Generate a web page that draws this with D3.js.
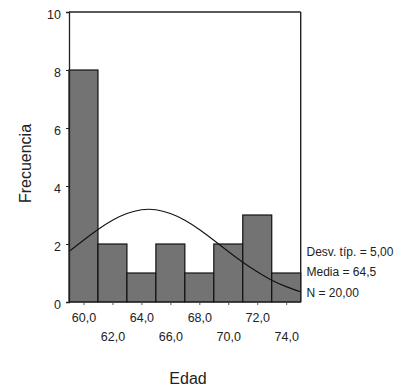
<!DOCTYPE html>
<html>
<head>
<meta charset="utf-8">
<script src="https://cdn.jsdelivr.net/npm/d3@7"></script>
<style>
  html, body { margin: 0; padding: 0; background: #fff; }
  svg { display: block; font-family: "Liberation Sans", Arial, sans-serif; }
</style>
</head>
<body>
<svg id="chart" width="400" height="391"></svg>
<script>
// Histogram bins (centres, width 2 years) and frequencies
const binCenters = [60, 62, 64, 66, 68, 70, 72, 74];
const frequencies = [8, 2, 1, 2, 1, 2, 3, 1];
const binWidth = 2;
// Normal curve (age -> frequency)
const curveAges = [59, 60, 61, 62, 63, 64, 65, 66, 67, 68, 69, 70, 71, 72, 73, 74, 75];
const curveValues = [1.74, 2.13, 2.50, 2.82, 3.05, 3.18, 3.18, 3.05, 2.82, 2.50, 2.13, 1.74, 1.37, 1.04, 0.75, 0.53, 0.35];
const yTicks = [0, 2, 4, 6, 8, 10];
const xTicks = [60, 62, 64, 66, 68, 70, 72, 74];
const statsLines = ["Desv. típ. = 5,00", "Media = 64,5", "N = 20,00"];
const xTitle = "Edad";
const yTitle = "Frecuencia";

const svg = d3.select("#chart");
const mLeft = 69, mRight = 300.7, mTop = 12, mBottom = 302;

const x = d3.scaleLinear().domain([59, 75]).range([mLeft, mRight]);
const y = d3.scaleLinear().domain([0, 10]).range([mBottom, mTop]);

// Bars
svg.append("g").selectAll("rect")
  .data(binCenters)
  .join("rect")
  .attr("x", (d) => x(d - binWidth / 2))
  .attr("width", (d) => x(d + binWidth / 2) - x(d - binWidth / 2))
  .attr("y", (d, i) => y(frequencies[i]))
  .attr("height", (d, i) => y(0) - y(frequencies[i]))
  .attr("fill", "#737373")
  .attr("stroke", "#111")
  .attr("stroke-width", 1.2);

// Normal curve
const line = d3.line()
  .x((d, i) => x(curveAges[i]))
  .y((d) => y(d))
  .curve(d3.curveNatural);
svg.append("path")
  .datum(curveValues)
  .attr("d", line)
  .attr("fill", "none")
  .attr("stroke", "#111")
  .attr("stroke-width", 1.1);

// Frame: top and right
svg.append("line").attr("x1", mLeft).attr("x2", mRight).attr("y1", mTop).attr("y2", mTop)
  .attr("stroke", "#222").attr("stroke-width", 1.4);
svg.append("line").attr("x1", mRight).attr("x2", mRight).attr("y1", mTop).attr("y2", mBottom)
  .attr("stroke", "#222").attr("stroke-width", 1.4);

// Y axis
const yAxis = svg.append("g")
  .attr("transform", `translate(${mLeft},0)`)
  .call(d3.axisLeft(y).tickValues(yTicks).tickFormat(d3.format("d")).tickSize(3).tickPadding(5));
yAxis.select(".domain").attr("stroke", "#222").attr("stroke-width", 1.3);
yAxis.selectAll(".tick line").attr("stroke", "#222");
yAxis.selectAll("text")
  .attr("font-size", "12.5px")
  .attr("font-family", "Liberation Sans, Arial, sans-serif")
  .attr("fill", "#222")
  .attr("dy", "0.55em");

// X axis
const xAxis = svg.append("g")
  .attr("transform", `translate(0,${mBottom})`)
  .call(d3.axisBottom(x).tickValues(xTicks)
    .tickFormat((d) => d3.format(".1f")(d).replace(".", ","))
    .tickSize(3).tickPadding(0));
xAxis.select(".domain").attr("stroke", "#222").attr("stroke-width", 1.2)
  .attr("d", `M${mLeft},0H${mRight}`);
xAxis.selectAll(".tick line").attr("stroke", "#555").attr("y1", 1).attr("y2", 3);
xAxis.selectAll("text")
  .attr("font-size", "12.5px")
  .attr("font-family", "Liberation Sans, Arial, sans-serif")
  .attr("fill", "#222")
  .attr("dy", null)
  .attr("y", (d, i) => (i % 2 === 0 ? 20 : 39));

// Axis titles
svg.append("text")
  .attr("transform", "translate(31,163.5) rotate(-90)")
  .attr("text-anchor", "middle")
  .attr("font-size", "16px")
  .attr("fill", "#222")
  .text(yTitle);
svg.append("text")
  .attr("x", 188).attr("y", 384)
  .attr("text-anchor", "middle")
  .attr("font-size", "16px")
  .attr("fill", "#222")
  .text(xTitle);

// Stats
svg.append("g").selectAll("text")
  .data(statsLines)
  .join("text")
  .attr("x", 306.5)
  .attr("y", (d, i) => 256 + i * 20.3)
  .attr("font-size", "12px")
  .attr("fill", "#222")
  .text((d) => d);
</script>
</body>
</html>
